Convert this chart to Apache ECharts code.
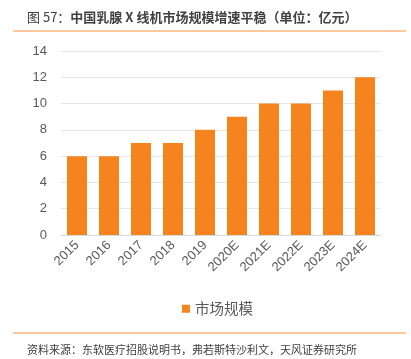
<!DOCTYPE html>
<html><head><meta charset="utf-8">
<script src="https://cdn.jsdelivr.net/npm/echarts@6/dist/echarts.min.js"></script>
<style>html,body{margin:0;padding:0;background:#fff}#c{width:411px;height:359px}</style>
</head><body><div id="c"></div>
<script>
const categories = ['2015','2016','2017','2018','2019','2020E','2021E','2022E','2023E','2024E'];
const marketSize = [6, 6, 7, 7, 8, 9, 10, 10, 11, 12];
const seriesName = '市场规模';
const titlePrefix = '图 57：';
const titleText = '中国乳腺 X 线机市场规模增速平稳（单位：亿元）';
const sourceText = '资料来源：东软医疗招股说明书，弗若斯特沙利文，天风证券研究所';

const chart = echarts.init(document.getElementById('c'));
const font = '"Noto Sans CJK SC", "Liberation Sans", sans-serif';
chart.setOption({
  animation: false,
  textStyle: {fontFamily: font},
  title: [
    {text: '{a|' + titlePrefix + '}{b|' + titleText + '}', left: 22, top: 6,
     textStyle: {fontFamily: font, rich: {
       a: {fontSize: 13, fontWeight: 'normal', color: '#404040', fontFamily: font},
       b: {fontSize: 13, fontWeight: 'bold', color: '#404040', fontFamily: font}
     }}},
    {text: sourceText, left: 22, top: 339, textStyle: {fontSize: 11, fontWeight: 'normal', color: '#404040', fontFamily: font}}
  ],
  graphic: [
    {type: 'line', shape: {x1: 13, y1: 31, x2: 406, y2: 31}, style: {stroke: '#F9B77E', lineWidth: 1.5}},
    {type: 'line', shape: {x1: 13, y1: 333, x2: 406, y2: 333}, style: {stroke: '#F9B77E', lineWidth: 1.5}}
  ],
  legend: {
    data: [seriesName], bottom: 38, left: 177, itemWidth: 8, itemHeight: 8, icon: 'rect', itemGap: 4,
    textStyle: {fontSize: 14.5, color: '#595959', fontFamily: font}
  },
  grid: {left: 61, right: 30, top: 51, bottom: 124, containLabel: false},
  xAxis: {
    type: 'category', data: categories,
    axisLine: {lineStyle: {color: '#D9D9D9'}}, axisTick: {show: false},
    axisLabel: {rotate: 45, fontSize: 13, color: '#595959', margin: 8, interval: 0, fontFamily: '"Liberation Sans", Arial, sans-serif'}
  },
  yAxis: {
    type: 'value', min: 0, max: 14, interval: 2,
    axisLine: {show: false}, axisTick: {show: false},
    splitLine: {lineStyle: {color: '#E6E6E6'}},
    axisLabel: {fontSize: 13, color: '#595959', margin: 14, fontFamily: '"Liberation Sans", Arial, sans-serif'}
  },
  series: [{
    name: seriesName, type: 'bar', data: marketSize, barWidth: 20,
    itemStyle: {color: '#F5841F'}
  }]
});
</script></body></html>
